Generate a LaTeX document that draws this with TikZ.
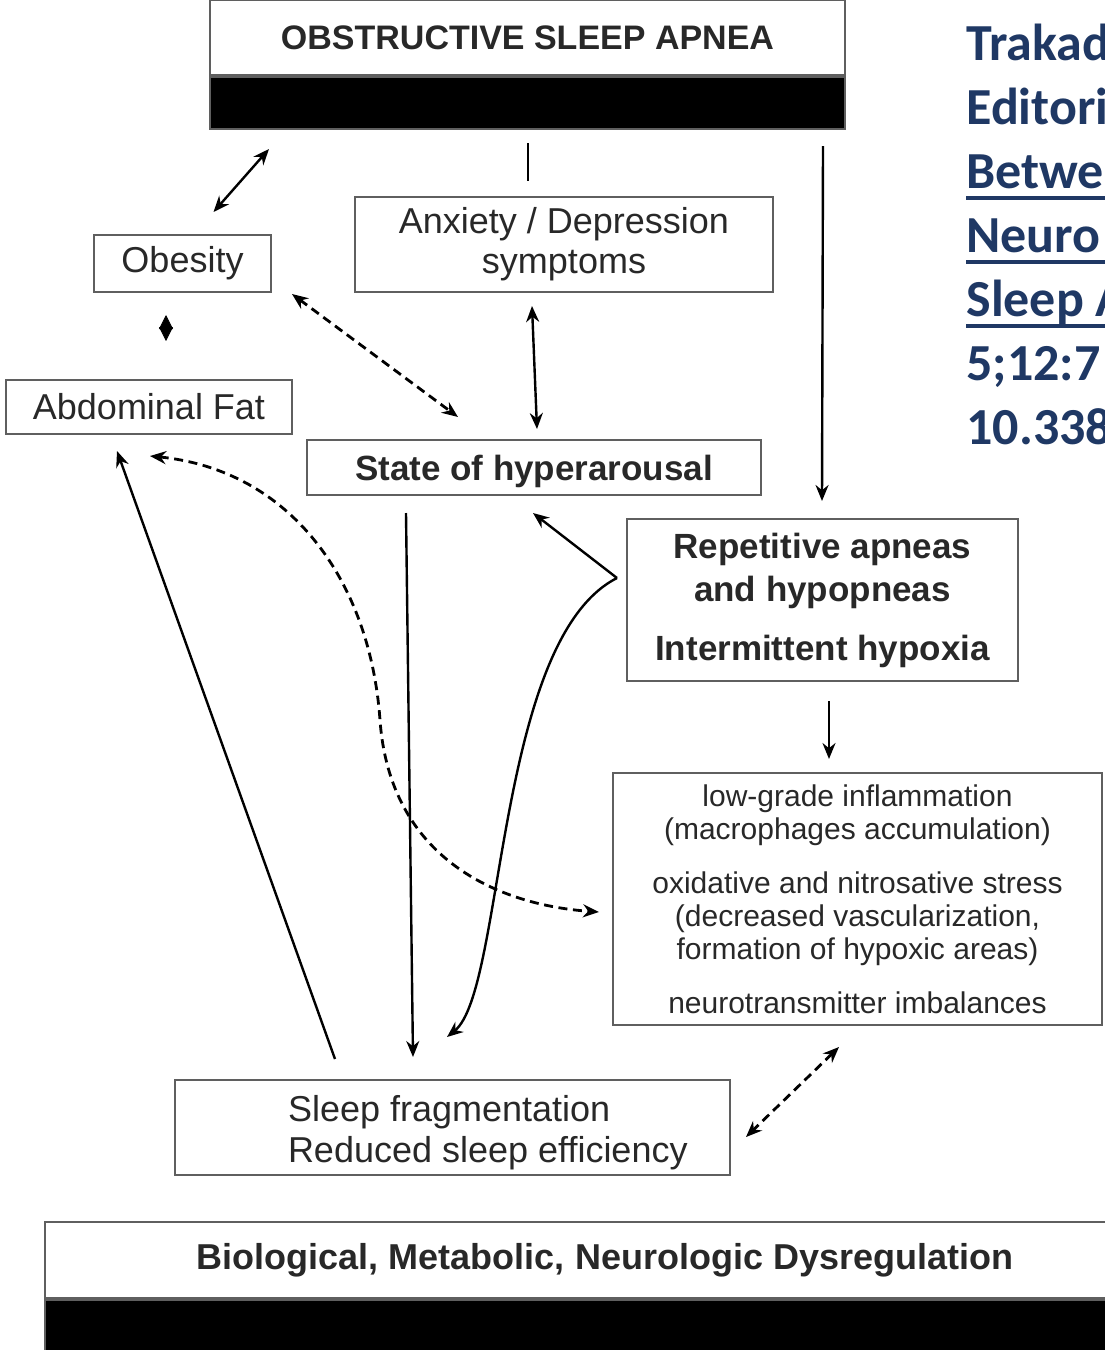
\documentclass[tikz,border=0pt]{standalone}
\usepackage{fontspec}
\setmainfont{Liberation Sans}
\newfontfamily\citefont{Carlito}
\usepackage{xcolor}
\usetikzlibrary{arrows.meta,positioning,calc}
\definecolor{citeBlue}{RGB}{31, 56,100}
\definecolor{boxGray} {RGB}{ 95, 95, 95}
\definecolor{inkGray} {RGB}{ 40, 40, 40}
\tikzset{
  box/.style={draw=boxGray, line width=1pt, inner sep=0pt, align=center,
    text=inkGray, font=\fontsize{18}{20}\selectfont},
  headbox/.style={box, font=\bfseries\fontsize{17}{20}\selectfont},
  headbar/.style={draw=boxGray, fill=black, line width=1pt, inner sep=0pt, minimum height=26pt},
  link/.style={line width=1.2pt, -{Stealth[length=8pt,width=6.5pt]}},
  twoway/.style={link, {Stealth[length=8pt,width=6.5pt]}-{Stealth[length=8pt,width=6.5pt]}},
  dashlink/.style={twoway, line width=1.4pt, dash pattern=on 4.5pt off 2.8pt},
  cite/.style={anchor=base west, inner sep=0pt, text=citeBlue,
    font=\citefont\bfseries\fontsize{26}{30}\selectfont}
}

\begin{document}
\begin{tikzpicture}[x=0.5pt,y=-0.5pt]
  \useasboundingbox (0,0) rectangle (1104,1350);
  % top and bottom banners
  \node[headbox, minimum width=317.5pt, minimum height=37.5pt] (osa) at (527.5,37.5) {OBSTRUCTIVE SLEEP APNEA};
  \node[headbar, minimum width=317.5pt, below=0pt of osa] (osabar) {};
  \node[headbox, font=\bfseries\fontsize{18}{20}\selectfont, minimum width=560pt, minimum height=38pt] (bio) at (605,1260) {Biological, Metabolic, Neurologic Dysregulation};
  \node[headbar, minimum width=560pt, minimum height=30pt, below=0pt of bio] (biobar) {};

  % boxes
  \node[box, minimum width=88.5pt, minimum height=28.5pt] (obesity) at (182.5,263.5) {Obesity};
  \node[box, minimum width=143pt, minimum height=27pt] (abdfat) at (149,407) {Abdominal Fat};
  \node[box, minimum width=209pt, minimum height=47.5pt] (anxiety) at (564,244.5) {Anxiety / Depression\\symptoms};
  \node[box, font=\bfseries\fontsize{17.5}{20}\selectfont, minimum width=227pt, minimum height=27.5pt, text height=16.5pt] (hyper) at (534,467.5) {State of hyperarousal};
  \node[box, font=\bfseries\fontsize{17.5}{21.5}\selectfont, minimum width=195.5pt, minimum height=81pt] (apnea) at (822.5,600)
    {Repetitive apneas\\and hypopneas\\[8pt]Intermittent hypoxia};
  \node[box, font=\fontsize{15}{16.5}\selectfont, minimum width=244.5pt, minimum height=126pt] (inflam) at (857.5,899)
    {low-grade inflammation\\(macrophages accumulation)\\[10.5pt]oxidative and nitrosative stress\\(decreased vascularization,\\formation of hypoxic areas)\\[10.5pt]neurotransmitter imbalances};
  \node[box, minimum width=277.5pt, minimum height=47.5pt] (sleep) at (452.5,1127.5) {};
  \node[box, draw=none, align=left, anchor=west, font=\fontsize{18}{20.5}\selectfont] (sleeptxt) at (287,1133)
    {Sleep fragmentation\\Reduced sleep efficiency};

  % connectors
  \draw[twoway] ($(obesity.north)+(31,-22)$) -- ($(osabar.south west)+(60,19)$);
  \draw[line width=1.2pt] ($(osabar.south)+(0.5,13)$) -- ($(anxiety.north)+(-36,-15)$);
  \draw[link] ($(osabar.south east)+(-23,16)$) -- ($(apnea.north)+(-0.5,-17)$);
  \draw[line width=0.4pt, {Triangle[length=7pt,width=7pt]}-{Triangle[length=7pt,width=7pt]}]
    ($(obesity.south)+(-16.5,22)$) -- ($(abdfat.north)+(17,-38)$);
  \draw[dashlink] ($(obesity.south east)+(20,1)$) -- ($(hyper.north)+(-76,-22)$);
  \draw[twoway] ($(anxiety.south)+(-32,13)$) -- ($(hyper.north)+(3,-10)$);
  \coordinate (fork) at ($(apnea.west)+(-9,-22)$);
  \draw[link] (fork) -- ($(hyper.south)+(-1,17)$);
  \draw[link] (fork) .. controls (495,640) and (505,990) .. ($(sleep.north)+(-5.5,-42)$);
  \draw[link] ($(hyper.south)+(-128,17)$) -- ($(sleep.north)+(-39.5,-22)$);
  \draw[link] ($(sleep.north west)+(161,-20)$) -- ($(abdfat.south west)+(112,16)$);
  \draw[dashlink] ($(abdfat.south)+(1,21)$) .. controls (290,470) and (370,580) .. (380,720)
    .. controls (390,860) and (500,905) .. ($(inflam.west)+(-13,13)$);
  \draw[link] ($(apnea.south)+(6.5,19)$) -- ($(inflam.north)+(-28.5,-13)$);
  \draw[dashlink] ($(inflam.south west)+(227,21)$) -- ($(sleep.east)+(15,9.5)$);

  % reference text, cut by the page edge
  \foreach \txt [count=\i] in {Trakad,Editori,Betwe,Neuro,Sleep A,5;12:7,10.338}
    \node[cite] (cite\i) at (966,{60+64*(\i-1)}) {\txt};
  \foreach \i in {3,4,5}
    \draw[citeBlue, line width=1.6pt] ([yshift=-5pt]cite\i.base west) -- ++(200,0);
\end{tikzpicture}
\end{document}
